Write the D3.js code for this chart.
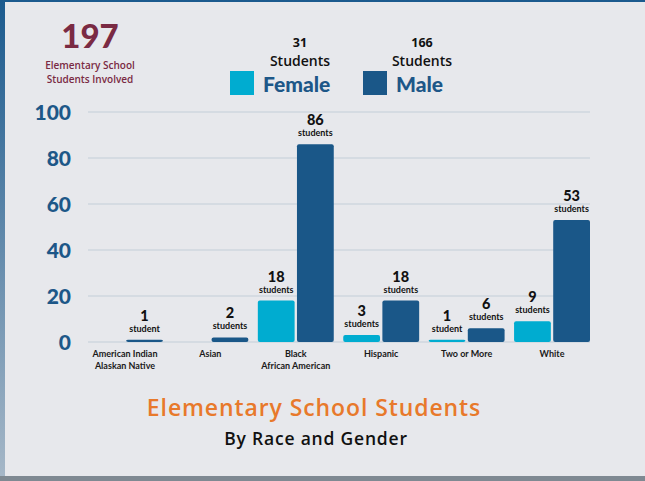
<!DOCTYPE html>
<html>
<head>
<meta charset="utf-8">
<script src="https://cdn.jsdelivr.net/npm/d3@7"></script>
<style>
  html, body { margin: 0; padding: 0; }
  body { width: 645px; height: 481px; overflow: hidden;
         background: linear-gradient(#1b5a8e, #a7b8c8); }
  svg { display: block; font-family: Lato, "Open Sans", sans-serif; }
  .os { font-family: "Open Sans", Lato, sans-serif; }
</style>
</head>
<body>
<svg id="chart" width="645" height="481"></svg>
<script>
// data
const categories = [
  ['American Indian', 'Alaskan Native'],
  ['Asian'],
  ['Black', 'African American'],
  ['Hispanic'],
  ['Two or More'],
  ['White']
];
const series = ['Female', 'Male'];
const female = [0, 0, 18, 3, 1, 9];
const male = [1, 2, 86, 18, 6, 53];
const yTicks = [0, 20, 40, 60, 80, 100];
const totals = { all: 197, Female: 31, Male: 166 };

const colors = { Female: '#00acd0', Male: '#1a5788' };
const navy = '#1d5788';
const maroon = '#7a2a43';

const svg = d3.select('#chart');

// panel + bottom shadow strip
svg.append('rect').attr('x', 0).attr('y', 476).attr('width', 645).attr('height', 5).attr('fill', '#7f8992');
svg.append('rect').attr('x', 5).attr('y', 2).attr('width', 640).attr('height', 474).attr('fill', '#e7e8ec');

const x0 = d3.scaleBand()
  .domain(d3.range(categories.length))
  .range([87, 590])
  .paddingInner(0.111)
  .paddingOuter(0);

const x1 = d3.scaleBand()
  .domain(series)
  .range([0, x0.bandwidth()])
  .paddingInner(0.06);

const y = d3.scaleLinear().domain([0, 100]).range([342, 112]);

// gridlines
svg.append('g')
  .selectAll('line')
  .data(yTicks)
  .join('line')
    .attr('x1', 88).attr('x2', 590)
    .attr('y1', d => y(d)).attr('y2', d => y(d))
    .attr('stroke', '#c3cdd8')
    .attr('stroke-width', 1.2);

// y labels
svg.append('g')
  .selectAll('text')
  .data(yTicks)
  .join('text')
    .attr('x', 71)
    .attr('y', d => y(d) + 7.5)
    .attr('text-anchor', 'end')
    .attr('fill', navy)
    .style('font-size', '21px')
    .style('font-weight', 900)
    .text(d => d);

// bars
const rows = [];
categories.forEach((c, i) => {
  rows.push({ i, key: 'Female', v: female[i] });
  rows.push({ i, key: 'Male', v: male[i] });
});

const g = svg.append('g');
g.selectAll('rect')
  .data(rows.filter(d => d.v > 0))
  .join('rect')
    .attr('x', d => x0(d.i) + x1(d.key))
    .attr('y', d => y(d.v))
    .attr('width', x1.bandwidth())
    .attr('height', d => y(0) - y(d.v))
    .attr('rx', 2)
    .attr('fill', d => colors[d.key]);

// value labels
const lab = g.selectAll('g.lab')
  .data(rows.filter(d => d.v > 0))
  .join('g')
    .attr('class', 'lab')
    .attr('transform', d => `translate(${x0(d.i) + x1(d.key) + x1.bandwidth() / 2},${y(d.v)})`);

lab.append('text')
  .attr('y', -19)
  .attr('text-anchor', 'middle')
  .attr('fill', '#111')
  .style('font-size', '14.5px')
  .style('font-weight', 900)
  .text(d => d.v);

lab.append('text')
  .attr('y', -8)
  .attr('text-anchor', 'middle')
  .attr('fill', '#111')
  .style('font-size', '9px')
  .style('font-weight', 700)
  .text(d => d.v === 1 ? 'student' : 'students');

// category labels
const cat = svg.append('g')
  .selectAll('text')
  .data(categories)
  .join('text')
    .attr('x', (d, i) => x0(i) + x0.bandwidth() / 2)
    .attr('y', 357)
    .attr('text-anchor', 'middle')
    .attr('fill', '#1a1a1a')
    .style('font-size', '9px')
    .style('font-weight', 700);

cat.selectAll('tspan')
  .data(d => d)
  .join('tspan')
    .attr('x', function() { return d3.select(this.parentNode).attr('x'); })
    .attr('dy', (d, i) => i === 0 ? 0 : 12)
    .text(d => d);

// headline number
svg.append('text')
  .attr('x', 90).attr('y', 48)
  .attr('text-anchor', 'middle')
  .attr('fill', maroon)
  .style('font-size', '33px')
  .style('font-weight', 900)
  .text(totals.all);

svg.append('text')
  .attr('class', 'os')
  .attr('x', 90).attr('y', 69)
  .attr('text-anchor', 'middle')
  .attr('fill', maroon)
  .style('font-size', '10px')
  .style('font-weight', 600)
  .selectAll('tspan')
  .data(['Elementary School', 'Students Involved'])
  .join('tspan')
    .attr('x', 90)
    .attr('dy', (d, i) => i === 0 ? 0 : 13.5)
    .text(d => d);

// legend
const legendX = { Female: 230, Male: 363 };
const totalX = { Female: 300, Male: 422 };
const legend = svg.append('g')
  .selectAll('g')
  .data(series)
  .join('g');

legend.append('rect')
  .attr('x', d => legendX[d])
  .attr('y', 71)
  .attr('width', 24)
  .attr('height', 24)
  .attr('fill', d => colors[d]);

legend.append('text')
  .attr('x', d => legendX[d] + 33)
  .attr('y', 92)
  .attr('fill', navy)
  .style('font-size', '21px')
  .style('font-weight', 900)
  .text(d => d);

legend.append('text')
  .attr('class', 'os')
  .attr('x', d => totalX[d])
  .attr('y', 46.5)
  .attr('text-anchor', 'middle')
  .attr('fill', '#111')
  .style('font-size', '12.5px')
  .style('font-weight', 700)
  .text(d => totals[d]);

legend.append('text')
  .attr('class', 'os')
  .attr('x', d => totalX[d])
  .attr('y', 66)
  .attr('text-anchor', 'middle')
  .attr('fill', '#111')
  .style('font-size', '14px')
  .style('font-weight', 600)
  .text('Students');

// titles
svg.append('text')
  .attr('class', 'os')
  .attr('x', 314).attr('y', 416)
  .attr('text-anchor', 'middle')
  .attr('fill', '#e8792b')
  .style('font-size', '23px')
  .style('font-weight', 600)
  .style('letter-spacing', '0.9px')
  .text('Elementary School Students');

svg.append('text')
  .attr('class', 'os')
  .attr('x', 316).attr('y', 445)
  .attr('text-anchor', 'middle')
  .attr('fill', '#111')
  .style('font-size', '17.5px')
  .style('font-weight', 600)
  .style('letter-spacing', '0.8px')
  .text('By Race and Gender');
</script>
</body>
</html>
